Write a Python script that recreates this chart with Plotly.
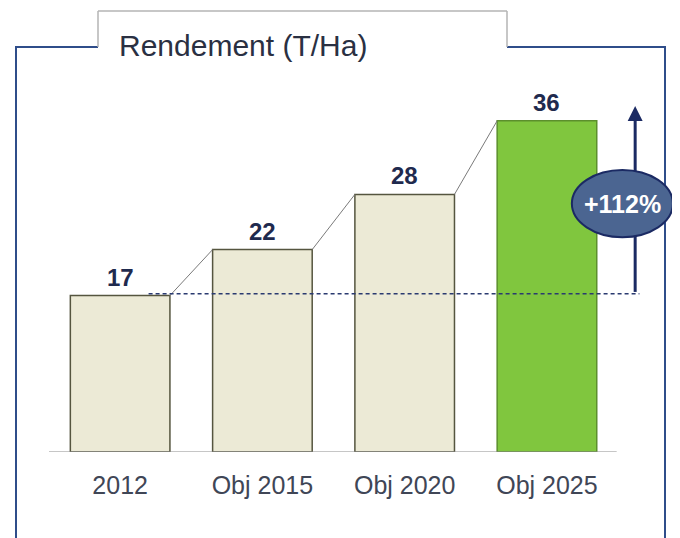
import plotly.graph_objects as go

# ---- data ----
categories = ["2012", "Obj 2015", "Obj 2020", "Obj 2025"]
values = [17, 22, 28, 36]
title_text = "Rendement (T/Ha)"

# ---- styling ----
# page has an 8px body margin, so the figure is 8px smaller than the window
OFF = 8
W, H = 680 - OFF, 538 - OFF
ML, MR, MT, MB = 41, 5, 52, 86
PW, PH = W - ML - MR, H - MT - MB
FONT = "Liberation Sans, Arial, sans-serif"
BEIGE = "#ecead6"
GREEN = "#80c63e"
bar_fill = [BEIGE, BEIGE, BEIGE, GREEN]
bar_line = ["#55553f", "#55553f", "#55553f", "#5c8f2c"]
BLUE = "#2f4d8a"
NAVY = "#1b2a63"
BAR_W = 0.70


def px(xp):
    # xp given in window pixels
    return (xp - OFF - ML) / PW


def py(yp):
    return (H - MB - (yp - OFF)) / PH


xs = list(range(len(categories)))
fig = go.Figure()
fig.add_trace(go.Bar(
    x=xs, y=values, width=BAR_W,
    marker=dict(color=bar_fill, line=dict(color=bar_line, width=1.5)),
    hoverinfo="skip",
))

shapes = []


def pline(x0, y0, x1, y1, color, width):
    shapes.append(dict(type="line", xref="paper", yref="paper",
                       x0=px(x0), y0=py(y0), x1=px(x1), y1=py(y1),
                       line=dict(color=color, width=width), layer="above"))


# frame with title tab (decoration)
pline(16, 47, 98, 47, BLUE, 2)
pline(16, 46, 16, 545, BLUE, 2)
pline(507, 47, 665, 47, BLUE, 2)
pline(665, 46, 665, 545, BLUE, 2)
pline(98, 47, 98, 11, "#b4b4b4", 1.5)
pline(98, 11, 507, 11, "#b4b4b4", 1.5)
pline(507, 11, 507, 47, "#b4b4b4", 1.5)

# baseline
shapes.append(dict(type="line", xref="x", yref="y", x0=xs[0] - 0.5, x1=xs[-1] + 0.49,
                   y0=0, y1=0, line=dict(color="#8c8c8c", width=1)))
# connectors between bar tops
for i in range(len(values) - 1):
    shapes.append(dict(type="line", xref="x", yref="y",
                       x0=xs[i] + BAR_W / 2, y0=values[i],
                       x1=xs[i + 1] - BAR_W / 2, y1=values[i + 1],
                       line=dict(color="#7a7a7a", width=1)))
# dashed reference line at base value
shapes.append(dict(type="line", xref="x", yref="y", x0=xs[0] + 0.2, x1=xs[-1] + 0.65,
                   y0=values[0] + 0.2, y1=values[0] + 0.2,
                   line=dict(color="#2a3a70", width=1.5, dash="4px,3px")))
# arrow shaft
ax_x = xs[-1] + 0.62
shapes.append(dict(type="line", xref="x", yref="y", x0=ax_x, x1=ax_x,
                   y0=values[0] + 0.4, y1=values[-1] + 0.8,
                   line=dict(color=NAVY, width=3)))
# ellipse
mid = (values[0] + values[-1]) / 2 + 0.5
ecx = xs[-1] + 0.53
shapes.append(dict(type="circle", xref="x", yref="y",
                   x0=ecx - 0.355, x1=ecx + 0.355, y0=mid - 3.65, y1=mid + 3.65,
                   fillcolor="#4b6591", line=dict(color=NAVY, width=2)))

annotations = []
# title
annotations.append(dict(xref="paper", yref="paper", x=px(117), y=py(46),
                        xanchor="left", yanchor="middle", showarrow=False,
                        text=title_text, font=dict(family=FONT, size=30, color="#2a3042")))
# value labels
for x, v in zip(xs, values):
    annotations.append(dict(x=x, y=v, xref="x", yref="y", yanchor="bottom",
                            yshift=3, showarrow=False, text=f"<b>{v}</b>",
                            font=dict(family=FONT, size=24, color="#1f2a4e")))
# arrow head
annotations.append(dict(x=ax_x, y=values[-1] + 1.6, xref="x", yref="y",
                        ax=0, ay=14, showarrow=True, arrowhead=2, arrowsize=1,
                        arrowwidth=3, arrowcolor=NAVY, text="", standoff=0))
# growth label
pct = round((values[-1] - values[0]) / values[0] * 100)
annotations.append(dict(x=ecx, y=mid, xref="x", yref="y", showarrow=False,
                        text=f"<b>+{pct}%</b>",
                        font=dict(family=FONT, size=25, color="white")))

fig.update_layout(
    width=W, height=H,
    margin=dict(l=ML, r=MR, t=MT, b=MB),
    paper_bgcolor="white", plot_bgcolor="white",
    showlegend=False,
    bargap=0.3,
    xaxis=dict(range=[-0.5, 3.9], tickvals=xs, ticktext=categories,
               showgrid=False, zeroline=False, showline=False, ticks="",
               ticklabelstandoff=16,
               tickfont=dict(family=FONT, size=25, color="#404656")),
    yaxis=dict(range=[0, PH / 9.2], visible=False, showgrid=False, zeroline=False),
    shapes=shapes, annotations=annotations,
)
fig.write_html("out.html")
